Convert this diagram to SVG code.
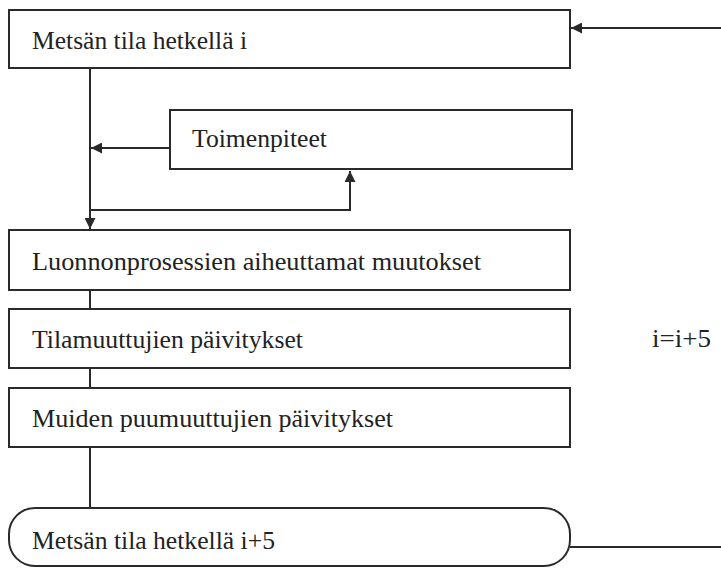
<svg xmlns="http://www.w3.org/2000/svg" width="721" height="568" viewBox="0 0 721 568">
<style>
.box{fill:#fff;stroke:#2a2a2a;stroke-width:2}
.ln{fill:none;stroke:#2a2a2a;stroke-width:2}
text{font-family:"Liberation Serif","Times New Roman",serif;font-size:26px;fill:#222}
</style>
<defs>
<marker id="ah" viewBox="0 0 10 10" refX="10" refY="5" markerWidth="13" markerHeight="11" markerUnits="userSpaceOnUse" orient="auto">
<path d="M0,0 L10,5 L0,10 z" fill="#2a2a2a"/>
</marker>
</defs>
<rect width="721" height="568" fill="#fff"/>
<g id="connectors">
<path class="ln" d="M721,28 L571,28" marker-end="url(#ah)"/>
<path class="ln" d="M90,68 L90,229" marker-end="url(#ah)"/>
<path class="ln" d="M170,148 L91,148" marker-end="url(#ah)"/>
<path class="ln" d="M90,210 L350,210 L350,171" marker-end="url(#ah)"/>
<path class="ln" d="M90,290 L90,309"/>
<path class="ln" d="M90,368 L90,388"/>
<path class="ln" d="M90,447 L90,508"/>
<path class="ln" d="M570,547 L721,547"/>
</g>
<g id="n1">
<rect class="box" x="9" y="10" width="561" height="58"/>
<text x="32" y="49" textLength="215" lengthAdjust="spacingAndGlyphs">Metsän tila hetkellä i</text>
</g>
<g id="n2">
<rect class="box" x="170" y="110" width="402" height="59"/>
<text x="192" y="147" textLength="135" lengthAdjust="spacingAndGlyphs">Toimenpiteet</text>
</g>
<g id="n3">
<rect class="box" x="9" y="230" width="561" height="60"/>
<text x="32" y="270" textLength="449" lengthAdjust="spacingAndGlyphs">Luonnonprosessien aiheuttamat muutokset</text>
</g>
<g id="n4">
<rect class="box" x="9" y="309" width="561" height="59"/>
<text x="32" y="348" textLength="271" lengthAdjust="spacingAndGlyphs">Tilamuuttujien päivitykset</text>
</g>
<g id="n5">
<rect class="box" x="9" y="388" width="561" height="59"/>
<text x="32" y="427" textLength="361" lengthAdjust="spacingAndGlyphs">Muiden puumuuttujien päivitykset</text>
</g>
<g id="n6">
<rect class="box" x="9" y="508" width="561" height="58" rx="26" ry="26"/>
<text x="32" y="549" textLength="243" lengthAdjust="spacingAndGlyphs">Metsän tila hetkellä i+5</text>
</g>
<g id="lbl">
<text x="652" y="347" textLength="59" lengthAdjust="spacingAndGlyphs">i=i+5</text>
</g>
</svg>
